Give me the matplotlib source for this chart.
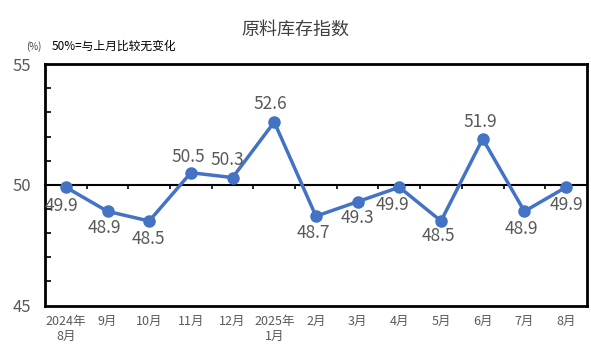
import matplotlib.pyplot as plt
import numpy as np

plt.rcParams['font.family'] = ['Noto Sans CJK SC', 'DejaVu Sans']

# 原料库存指数 data
months = ['2024年\n8月', '9月', '10月', '11月', '12月', '2025年\n1月', '2月',
          '3月', '4月', '5月', '6月', '7月', '8月']
values = [49.9, 48.9, 48.5, 50.5, 50.3, 52.6, 48.7, 49.3, 49.9, 48.5, 51.9, 48.9, 49.9]
# label offsets in pixels (dx, dy)
offsets = [(-4, -19), (-3, -17), (-1, -18), (-3, 16), (-5, 18), (-4, 18), (-3, -17),
           (0, -16), (-7, -18), (-3, -15), (-2, 17), (-3, -18), (0, -18)]

fig = plt.figure(figsize=(5.91, 3.54), dpi=100)
ax = fig.add_axes([0.0761, 0.137, 0.917, 0.682])

x = np.arange(len(values))
ax.plot(x, values, color='#4472C4', lw=2.5, marker='o', ms=8, zorder=3)

for xi, v, (dx, dy) in zip(x, values, offsets):
    ax.annotate(f'{v:.1f}', (xi, v), xytext=(dx * 0.72, dy * 0.72), textcoords='offset points',
                ha='center', va='center', fontsize=12.5, color='#595959')

ax.set_xlim(-0.5, len(values) - 0.5)
ax.set_ylim(45, 55)

# y axis: labels at 45/50/55, small inward ticks every unit
ax.set_yticks([45, 50, 55])
ax.set_yticks(np.arange(46, 55), minor=True)
ax.tick_params(axis='y', which='major', length=0, pad=10, labelsize=12, labelcolor='#595959')
ax.tick_params(axis='y', which='minor', direction='in', length=4, width=1.2)

ax.set_xticks(x)
ax.set_xticklabels(months)
ax.tick_params(axis='x', length=0, pad=7, labelsize=9, labelcolor='#595959')

for s in ax.spines.values():
    s.set_linewidth(2)
    s.set_color('black')

# 50 baseline with ticks between categories
sec = ax.secondary_xaxis(0.5)
sec.set_xticks(np.arange(0.5, len(values) - 1, 1))
sec.tick_params(direction='in', length=3, width=1.2, labelbottom=False, labeltop=False)
sec.set_xticklabels([])
sec.spines['bottom'].set_linewidth(1.5)
sec.spines['top'].set_linewidth(1.5)

fig.text(0.5, 0.915, '原料库存指数', ha='center', va='center', fontsize=13, color='#404040')
fig.text(0.045, 0.868, '(%)', ha='left', va='center', fontsize=7, color='#404040')
fig.text(0.088, 0.868, '50%=与上月比较无变化', ha='left', va='center', fontsize=8.5, color='black')

fig.savefig('out.png', dpi=100)
